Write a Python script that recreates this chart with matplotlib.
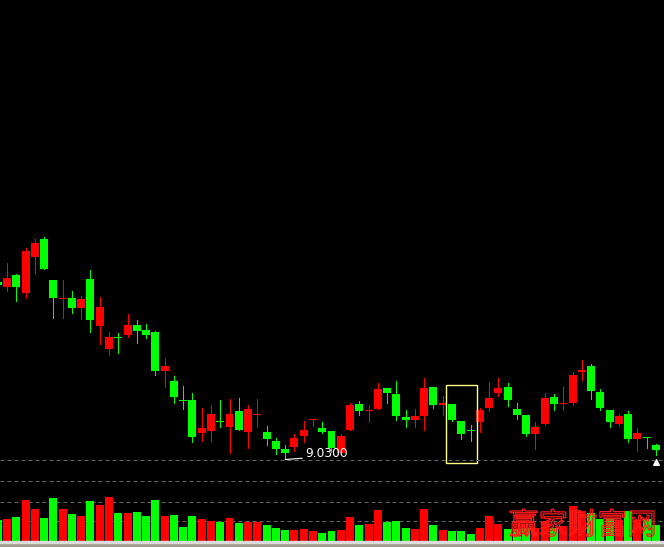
import numpy as np
import matplotlib
matplotlib.use("Agg")
import matplotlib.pyplot as plt
from matplotlib.patches import Rectangle, PathPatch
from matplotlib.textpath import TextPath
from matplotlib.font_manager import FontProperties
from matplotlib.transforms import Affine2D

# daily OHLC (oldest first)
opens = [10.79, 10.74, 10.86, 10.68, 11.04, 11.22, 10.81, 10.62, 10.63, 10.53,
         10.82, 10.35, 10.12, 10.24, 10.26, 10.36, 10.31, 10.29, 9.90, 9.80,
         9.61, 9.61, 9.28, 9.30, 9.40, 9.34, 9.50, 9.29, 9.46, 9.29,
         9.20, 9.12, 9.14, 9.25, 9.41, 9.33, 9.30, 9.08, 9.31, 9.57,
         9.50, 9.52, 9.73, 9.67, 9.44, 9.41, 9.45, 9.74, 9.56, 9.57,
         9.40, 9.31, 9.39, 9.53, 9.68, 9.74, 9.52, 9.46, 9.27, 9.37,
         9.64, 9.57, 9.58, 9.89, 9.95, 9.69, 9.51, 9.37, 9.47, 9.22,
         9.24, 9.16]
closes = [10.76, 10.83, 10.74, 11.10, 11.18, 10.92, 10.63, 10.63, 10.53, 10.62,
          10.41, 10.54, 10.24, 10.23, 10.36, 10.30, 10.26, 9.90, 9.95, 9.64,
          9.60, 9.24, 9.33, 9.47, 9.39, 9.47, 9.31, 9.52, 9.47, 9.22,
          9.12, 9.08, 9.23, 9.31, 9.42, 9.29, 9.13, 9.25, 9.56, 9.50,
          9.51, 9.72, 9.68, 9.45, 9.41, 9.45, 9.73, 9.56, 9.58, 9.41,
          9.27, 9.30, 9.51, 9.63, 9.73, 9.61, 9.46, 9.27, 9.34, 9.63,
          9.57, 9.58, 9.86, 9.91, 9.70, 9.53, 9.39, 9.45, 9.22, 9.28,
          9.23, 9.11]
highs = [10.81, 10.98, 10.87, 11.13, 11.22, 11.24, 10.81, 10.81, 10.70, 10.65,
         10.91, 10.64, 10.29, 10.28, 10.47, 10.41, 10.37, 10.30, 10.03, 9.85,
         9.75, 9.68, 9.53, 9.56, 9.61, 9.62, 9.63, 9.56, 9.62, 9.35,
         9.23, 9.16, 9.27, 9.40, 9.42, 9.39, 9.30, 9.27, 9.58, 9.60,
         9.56, 9.78, 9.73, 9.80, 9.51, 9.52, 9.83, 9.74, 9.65, 9.57,
         9.40, 9.36, 9.53, 9.79, 9.83, 9.78, 9.58, 9.46, 9.39, 9.68,
         9.67, 9.74, 9.89, 10.01, 9.97, 9.72, 9.51, 9.47, 9.50, 9.33,
         9.24, 9.17]
lows = [10.74, 10.70, 10.60, 10.63, 10.87, 10.92, 10.43, 10.43, 10.48, 10.42,
        10.29, 10.17, 10.06, 10.08, 10.24, 10.18, 10.23, 9.86, 9.74, 9.58,
        9.52, 9.19, 9.20, 9.20, 9.34, 9.08, 9.31, 9.13, 9.34, 9.16,
        9.07, 9.03, 9.10, 9.19, 9.35, 9.28, 9.09, 9.08, 9.31, 9.46,
        9.39, 9.52, 9.58, 9.41, 9.34, 9.34, 9.31, 9.53, 9.46, 9.40,
        9.22, 9.20, 9.29, 9.50, 9.65, 9.55, 9.42, 9.25, 9.12, 9.36,
        9.51, 9.51, 9.56, 9.81, 9.62, 9.51, 9.34, 9.35, 9.19, 9.10,
        9.13, 9.06]
volumes = [20700, 21700, 23700, 40700, 31700, 22700, 42700, 31700, 26700, 24700,
           39700, 35700, 43700, 27700, 27700, 28700, 24700, 40700, 24700, 25700,
           13700, 24700, 21700, 19700, 18700, 22700, 17700, 18700, 18700, 15700,
           12700, 10700, 10700, 11700, 9700, 7700, 9700, 10700, 23700, 15700,
           16700, 30700, 18700, 19700, 12700, 11700, 31700, 15700, 10700, 9700,
           9700, 6700, 12700, 24700, 16700, 11700, 11700, 12700, 12700, 19700,
           12700, 14700, 34700, 29700, 27700, 21700, 21700, 20700, 29700, 20700,
           21700, 15700]
low_label = "9.0300"
watermark = "赢家财富网"

UP, DOWN = "#ff0000", "#00ff00"
PX = 0.72  # one pixel in points at 100 dpi

o = np.array(opens)
c = np.array(closes)
x = np.arange(len(o))
cols = [UP if cc >= oo else DOWN for oo, cc in zip(o, c)]

W, H = 664.0, 547.0
fig = plt.figure(figsize=(W / 100, H / 100), dpi=100, facecolor="black")
ax = fig.add_axes([0, 87 / H, 1, 460 / H], facecolor="black")
axv = fig.add_axes([0, 6.3 / H, 1, 80.7 / H], facecolor="black")
for a in (ax, axv):
    a.set_axis_off()
    a.set_xlim(0.245, 71.865)

# candles
ax.vlines(x, lows, highs, colors=cols, linewidth=PX, antialiased=False, zorder=2)
body_h = np.maximum(np.abs(c - o), 0.01)
ax.bar(x, body_h, bottom=np.minimum(o, c), width=0.86, color=cols,
       linewidth=0, antialiased=False, zorder=3)
ax.set_ylim(9.01, 13.61)

# lowest price label
ilow = int(np.argmin(lows))
ax.annotate(low_label, xy=(ilow, lows[ilow] - 0.015), xytext=(ilow + 2.15, lows[ilow] + 0.045),
            color="white", fontsize=8.8, ha="left", va="center",
            arrowprops=dict(arrowstyle="-", color="white", lw=0.8,
                            shrinkA=0, shrinkB=0, relpos=(0, 0.15)))

# highlight box and marker
ax.add_patch(Rectangle((48.35, 8.983), 3.31, 0.777, fill=False,
                       edgecolor="#ffff80", linewidth=1.0, clip_on=False, zorder=5))
ax.scatter([x[-1]], [8.99], marker="^", s=16, color="white", clip_on=False, zorder=5)

# volume
axv.bar(x, volumes, width=0.86, color=cols, linewidth=0, antialiased=False)
axv.set_ylim(0, 80700)
for g in (19400, 39000, 59400, 80400):
    axv.axhline(g, color="#646464", linewidth=PX, linestyle=(0, (4, 3)),
                clip_on=False, zorder=0)

# watermark drawn as red outlines only
tp = TextPath((0, 0), watermark, size=29.5, prop=FontProperties(family="Noto Sans CJK SC"))
to_fig = Affine2D().translate(509, 547 - 536 + 2).scale(1 / W, 1 / H) + fig.transFigure
fig.patches.append(PathPatch(tp, transform=to_fig, facecolor="none",
                             edgecolor="#ff1a1a", linewidth=0.9, zorder=10))

# bottom strip
fig.patches.append(Rectangle((0, 0), 1, 4.3 / H, transform=fig.transFigure,
                             color="#a09c90", zorder=0))
fig.patches.append(Rectangle((0, 4.3 / H), 1, 2.0 / H, transform=fig.transFigure,
                             color="#dcdcdc", zorder=0))

fig.savefig("out.png", dpi=100, facecolor="black")
